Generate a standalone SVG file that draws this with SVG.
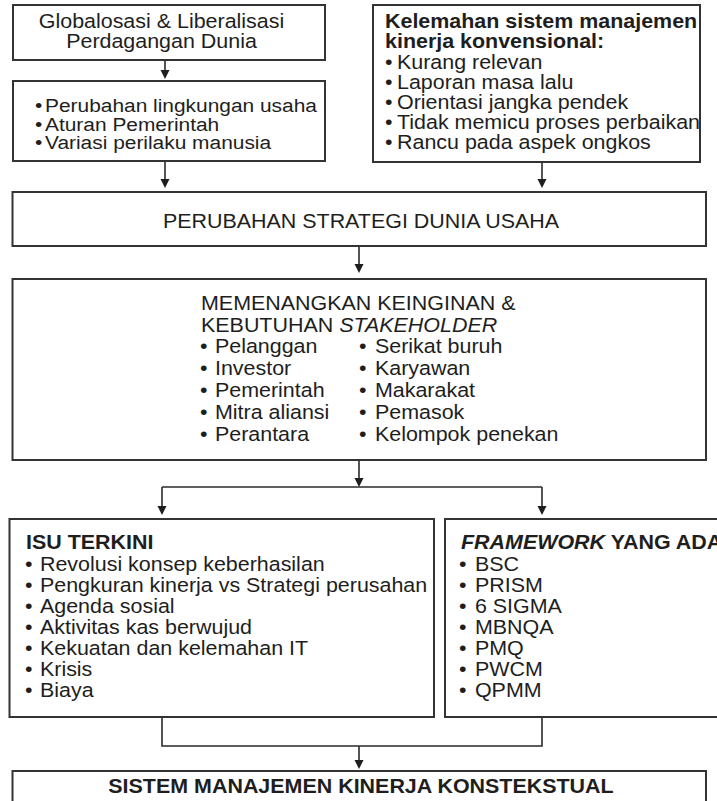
<svg xmlns="http://www.w3.org/2000/svg" width="717" height="801" viewBox="0 0 717 801">
<style>
.box{fill:#ffffff;stroke:#333333;stroke-width:2}
.t{font-family:"Liberation Sans",Arial,Helvetica,sans-serif;font-size:19.5px;fill:#1e1e1e}
.s{font-size:19px}
.b{font-weight:bold}
.i{font-style:italic}
.c{text-anchor:middle}
.conn line,.conn polyline{stroke:#2a2a2a;stroke-width:1.6;fill:none}
</style>
<defs>
<marker id="ah" markerUnits="userSpaceOnUse" markerWidth="10" markerHeight="10" refX="7" refY="4.5" orient="auto">
<path d="M0,0 L9,4.5 L0,9 z" fill="#1e1e1e"/>
</marker>
</defs>
<rect x="0" y="0" width="717" height="801" fill="#ffffff"/>

<g class="conn">
<line x1="165" y1="60" x2="165" y2="77" marker-end="url(#ah)"/>
<line x1="165" y1="161" x2="165" y2="186" marker-end="url(#ah)"/>
<line x1="542" y1="162" x2="542" y2="186" marker-end="url(#ah)"/>
<line x1="359" y1="246" x2="359" y2="271" marker-end="url(#ah)"/>
<line x1="359" y1="460" x2="359" y2="485" marker-end="url(#ah)"/>
<line x1="162" y1="487" x2="542" y2="487"/>
<line x1="162" y1="487" x2="162" y2="513" marker-end="url(#ah)"/>
<line x1="542" y1="487" x2="542" y2="513" marker-end="url(#ah)"/>
<polyline points="162,717 162,746 542,746 542,717"/>
<line x1="359" y1="746" x2="359" y2="767" marker-end="url(#ah)"/>
</g>

<g id="globalisasi">
<rect class="box" x="13" y="5" width="312" height="55"/>
<text class="t c" transform="translate(161.5 28) scale(1.1 1)">Globalosasi &amp; Liberalisasi</text>
<text class="t c" transform="translate(161.5 48) scale(1.1 1)">Perdagangan Dunia</text>
</g>

<g id="lingkungan">
<rect class="box" x="13" y="81" width="312" height="80"/>
<text class="t s" transform="translate(35 112) scale(1.1 1)"><tspan x="0">•</tspan><tspan x="9.1">Perubahan lingkungan usaha</tspan></text>
<text class="t s" transform="translate(35 130.5) scale(1.1 1)"><tspan x="0">•</tspan><tspan x="9.1">Aturan Pemerintah</tspan></text>
<text class="t s" transform="translate(35 149) scale(1.1 1)"><tspan x="0">•</tspan><tspan x="9.1">Variasi perilaku manusia</tspan></text>
</g>

<g id="kelemahan">
<rect class="box" x="373" y="5" width="327" height="157"/>
<text class="t b" transform="translate(385 28) scale(1.1 1)">Kelemahan sistem manajemen</text>
<text class="t b" transform="translate(385 48) scale(1.1 1)">kinerja konvensional:</text>
<text class="t" transform="translate(385 69) scale(1.1 1)"><tspan x="0">•</tspan><tspan x="10.9">Kurang relevan</tspan></text>
<text class="t" transform="translate(385 89) scale(1.1 1)"><tspan x="0">•</tspan><tspan x="10.9">Laporan masa lalu</tspan></text>
<text class="t" transform="translate(385 109) scale(1.1 1)"><tspan x="0">•</tspan><tspan x="10.9">Orientasi jangka pendek</tspan></text>
<text class="t" transform="translate(385 129) scale(1.1 1)"><tspan x="0">•</tspan><tspan x="10.9">Tidak memicu proses perbaikan</tspan></text>
<text class="t" transform="translate(385 149) scale(1.1 1)"><tspan x="0">•</tspan><tspan x="10.9">Rancu pada aspek ongkos</tspan></text>
</g>

<g id="perubahan">
<rect class="box" x="12.5" y="192" width="693.5" height="54"/>
<text class="t c" transform="translate(361 228) scale(1.1 1)">PERUBAHAN STRATEGI DUNIA USAHA</text>
</g>

<g id="stakeholder">
<rect class="box" x="12.5" y="279" width="693.5" height="181"/>
<text class="t" transform="translate(201 310) scale(1.1 1)">MEMENANGKAN KEINGINAN &amp;</text>
<text class="t" transform="translate(201 331.5) scale(1.1 1)">KEBUTUHAN <tspan class="i">STAKEHOLDER</tspan></text>
<text class="t" transform="translate(200 353) scale(1.1 1)"><tspan x="0">•</tspan><tspan x="13.6">Pelanggan</tspan></text>
<text class="t" transform="translate(200 375) scale(1.1 1)"><tspan x="0">•</tspan><tspan x="13.6">Investor</tspan></text>
<text class="t" transform="translate(200 397) scale(1.1 1)"><tspan x="0">•</tspan><tspan x="13.6">Pemerintah</tspan></text>
<text class="t" transform="translate(200 419) scale(1.1 1)"><tspan x="0">•</tspan><tspan x="13.6">Mitra aliansi</tspan></text>
<text class="t" transform="translate(200 441) scale(1.1 1)"><tspan x="0">•</tspan><tspan x="13.6">Perantara</tspan></text>
<text class="t" transform="translate(359 353) scale(1.1 1)"><tspan x="0">•</tspan><tspan x="14.5">Serikat buruh</tspan></text>
<text class="t" transform="translate(359 375) scale(1.1 1)"><tspan x="0">•</tspan><tspan x="14.5">Karyawan</tspan></text>
<text class="t" transform="translate(359 397) scale(1.1 1)"><tspan x="0">•</tspan><tspan x="14.5">Makarakat</tspan></text>
<text class="t" transform="translate(359 419) scale(1.1 1)"><tspan x="0">•</tspan><tspan x="14.5">Pemasok</tspan></text>
<text class="t" transform="translate(359 441) scale(1.1 1)"><tspan x="0">•</tspan><tspan x="14.5">Kelompok penekan</tspan></text>
</g>

<g id="isu">
<rect class="box" x="9.5" y="519" width="424.5" height="198"/>
<text class="t b" transform="translate(26 549) scale(1.1 1)">ISU TERKINI</text>
<text class="t" transform="translate(25 570.5) scale(1.1 1)"><tspan x="0">•</tspan><tspan x="13.6">Revolusi konsep keberhasilan</tspan></text>
<text class="t" transform="translate(25 591.5) scale(1.1 1)"><tspan x="0">•</tspan><tspan x="13.6">Pengkuran kinerja vs Strategi perusahan</tspan></text>
<text class="t" transform="translate(25 612.5) scale(1.1 1)"><tspan x="0">•</tspan><tspan x="13.6">Agenda sosial</tspan></text>
<text class="t" transform="translate(25 633.5) scale(1.1 1)"><tspan x="0">•</tspan><tspan x="13.6">Aktivitas kas berwujud</tspan></text>
<text class="t" transform="translate(25 654.5) scale(1.1 1)"><tspan x="0">•</tspan><tspan x="13.6">Kekuatan dan kelemahan IT</tspan></text>
<text class="t" transform="translate(25 675.5) scale(1.1 1)"><tspan x="0">•</tspan><tspan x="13.6">Krisis</tspan></text>
<text class="t" transform="translate(25 696.5) scale(1.1 1)"><tspan x="0">•</tspan><tspan x="13.6">Biaya</tspan></text>
</g>

<g id="framework">
<rect class="box" x="445" y="519" width="290" height="198"/>
<text class="t b" transform="translate(461 549) scale(1.1 1)"><tspan class="i">FRAMEWORK</tspan> YANG ADA</text>
<text class="t" transform="translate(459 570.5) scale(1.1 1)"><tspan x="0">•</tspan><tspan x="14.5">BSC</tspan></text>
<text class="t" transform="translate(459 591.5) scale(1.1 1)"><tspan x="0">•</tspan><tspan x="14.5">PRISM</tspan></text>
<text class="t" transform="translate(459 612.5) scale(1.1 1)"><tspan x="0">•</tspan><tspan x="14.5">6 SIGMA</tspan></text>
<text class="t" transform="translate(459 633.5) scale(1.1 1)"><tspan x="0">•</tspan><tspan x="14.5">MBNQA</tspan></text>
<text class="t" transform="translate(459 654.5) scale(1.1 1)"><tspan x="0">•</tspan><tspan x="14.5">PMQ</tspan></text>
<text class="t" transform="translate(459 675.5) scale(1.1 1)"><tspan x="0">•</tspan><tspan x="14.5">PWCM</tspan></text>
<text class="t" transform="translate(459 696.5) scale(1.1 1)"><tspan x="0">•</tspan><tspan x="14.5">QPMM</tspan></text>
</g>

<g id="sistem">
<rect class="box" x="12.5" y="771" width="693.5" height="60"/>
<text class="t b c" transform="translate(361 793) scale(1.1 1)">SISTEM MANAJEMEN KINERJA KONSTEKSTUAL</text>
</g>
</svg>
